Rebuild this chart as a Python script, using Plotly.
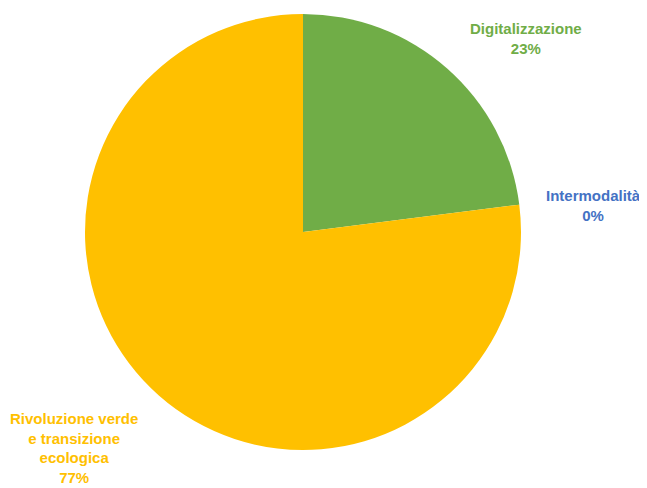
import plotly.graph_objects as go

categories = ["Digitalizzazione", "Intermodalità", "Rivoluzione verde e transizione ecologica"]
values = [23, 0, 77]
pct_labels = ["23%", "0%", "77%"]
colors = ["#70AD47", "#4472C4", "#FFC000"]

W, H = 647, 488
OFF = 8  # page body margin offset
fig = go.Figure(go.Pie(
    labels=categories, values=values, sort=False, direction="clockwise", rotation=0,
    marker=dict(colors=colors, line=dict(width=0)),
    textinfo="none", hoverinfo="label+percent", showlegend=False,
    domain=dict(x=[(85 - OFF) / W, (521 - OFF) / W], y=[1 - (450 - OFF) / H, 1 - (14 - OFF) / H]),
))

font_family = "Liberation Sans, Arial, sans-serif"
label_specs = [
    ("Digitalizzazione", pct_labels[0], colors[0], 526, 38),
    ("Intermodalità", pct_labels[1], colors[1], 593, 205),
    ("Rivoluzione verde<br>e transizione<br>ecologica", pct_labels[2], colors[2], 74, 448),
]
for name, pct, col, px, py in label_specs:
    fig.add_annotation(
        x=(px - OFF) / W, y=1 - (py - OFF) / H, xref="paper", yref="paper",
        text=f"<b>{name}<br>{pct}</b>", showarrow=False, align="center",
        font=dict(family=font_family, size=15, color=col),
        xanchor="center", yanchor="middle",
    )

fig.update_layout(
    width=W, height=H, margin=dict(l=0, r=0, t=0, b=0),
    paper_bgcolor="white", plot_bgcolor="white",
)
fig.write_html("out.html")
